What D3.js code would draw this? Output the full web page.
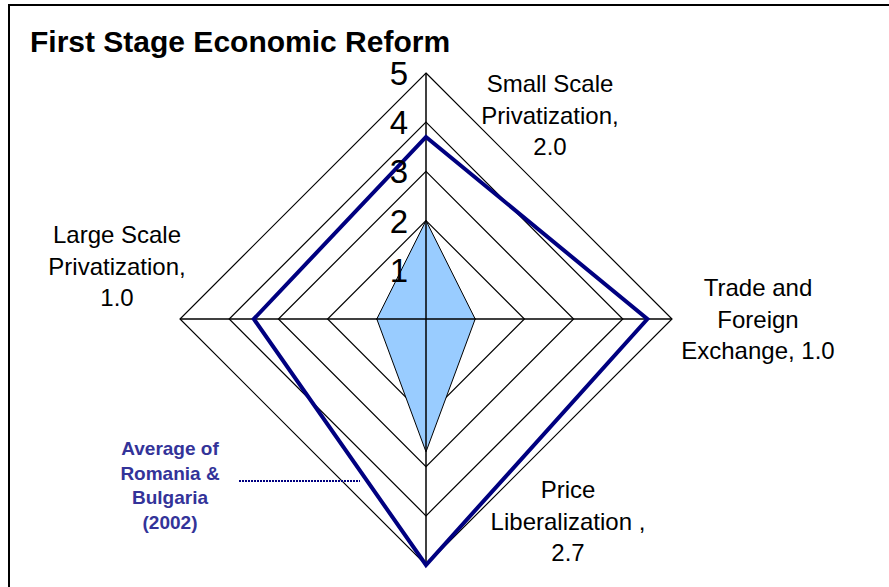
<!DOCTYPE html>
<html>
<head>
<meta charset="utf-8">
<script src="https://cdn.jsdelivr.net/npm/d3@7"></script>
<style>
  body { margin: 0; background: #fff; }
  svg { display: block; font-family: "Liberation Sans", Arial, sans-serif; }
</style>
</head>
<body>
<div id="chart"></div>
<script>
const categories = ["Small Scale Privatization", "Trade and Foreign Exchange", "Price Liberalization", "Large Scale Privatization"];
const countryValues = [2.0, 1.0, 2.7, 1.0];
const averageValues = [3.7, 4.5, 5.0, 3.5];
const ticks = [1, 2, 3, 4, 5];
const labelLines = [
  ["Small Scale", "Privatization,", "2.0"],
  ["Trade and", "Foreign", "Exchange, 1.0"],
  ["Price", "Liberalization ,", "2.7"],
  ["Large Scale", "Privatization,", "1.0"]
];
const noteLines = ["Average of", "Romania &", "Bulgaria", "(2002)"];

const w = 889;
const h = 587;
const cx = 426;
const cy = 319;

const svg = d3.select('#chart')
  .append('svg')
  .attr('width', w)
  .attr('height', h);

// frame
svg.append('path')
   .attr('d', 'M9,587 V5 H889')
   .attr('fill', 'none')
   .attr('stroke', '#000')
   .attr('stroke-width', 2);

svg.append('text')
   .attr('x', 30)
   .attr('y', 52)
   .attr('font-size', 30)
   .attr('font-weight', 'bold')
   .text('First Stage Economic Reform');

const r = d3.scaleLinear().domain([0, 5]).range([0, 246]);
const angle = d3.scalePoint().domain(categories).range([0, 2 * Math.PI * 3 / 4]);

const g = svg.append('g').attr('transform', `translate(${cx},${cy})`);

const radial = d3.lineRadial()
  .angle((d, i) => angle(categories[i]))
  .radius(d => r(d))
  .curve(d3.curveLinearClosed);

// grid rings
g.selectAll('.ring')
 .data(ticks)
 .enter()
 .append('path')
 .attr('class', 'ring')
 .attr('d', t => radial(categories.map(() => t)))
 .attr('fill', 'none')
 .attr('stroke', '#000')
 .attr('stroke-width', 1.2);

// filled series
g.append('path')
 .attr('d', radial(countryValues))
 .attr('fill', '#99CCFF')
 .attr('stroke', '#000')
 .attr('stroke-width', 1);

// spokes
g.selectAll('.spoke')
 .data(categories)
 .enter()
 .append('line')
 .attr('x2', d => r(5) * Math.sin(angle(d)))
 .attr('y2', d => -r(5) * Math.cos(angle(d)))
 .attr('stroke', '#000')
 .attr('stroke-width', 1.5);

// average series
g.append('path')
 .attr('d', radial(averageValues))
 .attr('fill', 'none')
 .attr('stroke', '#000080')
 .attr('stroke-width', 4)
 .attr('stroke-linejoin', 'miter');

// tick numbers
g.selectAll('.tick')
 .data(ticks)
 .enter()
 .append('text')
 .attr('x', -18)
 .attr('y', t => -r(t) + 12)
 .attr('text-anchor', 'end')
 .attr('font-size', 33)
 .text(t => t);

// category labels
const labelPos = [[550, 84], [758, 288], [568, 490], [117, 235]];
labelLines.forEach((lines, i) => {
  const t = svg.append('text')
    .attr('text-anchor', 'middle')
    .attr('font-size', 24);
  lines.forEach((s, j) => {
    t.append('tspan')
     .attr('x', labelPos[i][0])
     .attr('y', labelPos[i][1] + 8 + j * 31.5)
     .text(s);
  });
});

// annotation
const note = svg.append('text')
  .attr('text-anchor', 'middle')
  .attr('font-size', 19)
  .attr('font-weight', 'bold')
  .attr('fill', '#333399');
noteLines.forEach((s, j) => {
  note.append('tspan')
      .attr('x', 170)
      .attr('y', 455 + j * 24.5)
      .text(s);
});
svg.append('line')
   .attr('x1', 239).attr('x2', 360)
   .attr('y1', 481).attr('y2', 481)
   .attr('stroke', '#000080')
   .attr('stroke-width', 2)
   .attr('stroke-dasharray', '2,1');
</script>
</body>
</html>
